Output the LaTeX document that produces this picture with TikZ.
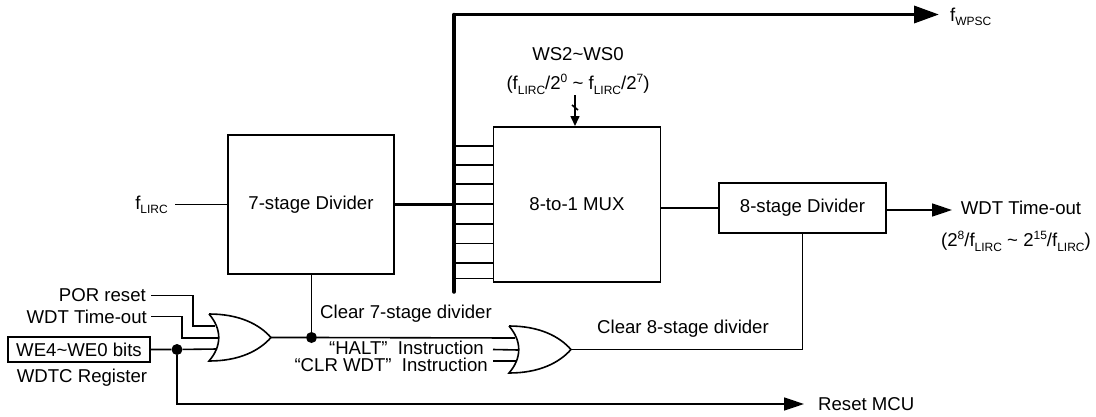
\documentclass[tikz,border=0pt]{standalone}
\usepackage{fontspec}
\setmainfont{Liberation Sans}
\usepackage{tikz}
\usetikzlibrary{positioning,arrows.meta}
\newcommand{\lowtext}[1]{\raisebox{-0.22em}{\fontsize{12}{12}\selectfont #1}}
\newcommand{\hightext}[1]{\raisebox{0.42em}{\fontsize{12}{12}\selectfont #1}}
\newcommand{\flirc}{f\lowtext{LIRC}}

\begin{document}
\begin{tikzpicture}[
  x=1pt,y=-1pt,
  lab/.style={inner sep=0pt,font=\fontsize{18.6}{22}\selectfont},
  block/.style={rectangle,draw=black,line width=1.6pt,inner sep=0pt,font=\fontsize{18.6}{22}\selectfont},
  wire/.style={line width=1.6pt},
  bus/.style={line width=3.5pt},
  arrow/.style={wire,-{Triangle[length=20pt,width=13pt]}},
  smallarrow/.style={wire,-{Triangle[length=10pt,width=9pt]}},
  busarrow/.style={bus,-{Triangle[length=25pt,width=17pt]}},
  dot/.style={circle,fill=black,inner sep=0pt,minimum size=11pt},
  orgate/.pic={
    \draw[wire] (0,0) .. controls (30,0) and (50,10) .. (62,23.5)
      .. controls (50,37) and (30,47) .. (0,47)
      .. controls (13,32) and (13,15) .. (0,0);
    \coordinate (-in1) at (6,12);
    \coordinate (-in2) at (9.5,24);
    \coordinate (-in3) at (8,35);
    \coordinate (-out) at (62,23.5);
  }
]
\useasboundingbox (0,0) rectangle (1096,416);
\node[block,minimum width=166pt,minimum height=139pt] (div7) at (311,204.5) {7-stage Divider};
\node[block,minimum width=167pt,minimum height=155pt] (mux) at (577,204.5) {8-to-1 MUX};
\node[block,minimum width=167pt,minimum height=50pt] (div8) at (802.5,208) {8-stage Divider};
\node[block,minimum width=142pt,minimum height=25pt] (wdtc) at (79,349.5) {WE4\textasciitilde WE0 bits};
\pic (ora) at (209,314) {orgate};
\pic (orb) at (509,326) {orgate};
\node[dot] (jwe) at (177,349.5) {};
\node[dot] (jclr) at (311.5,337.5) {};
% Labels
\node[lab,anchor=east] (flab) at (168,204.5) {\flirc};
\node[lab,anchor=east] (porlab) at (146,295.5) {POR reset};
\node[lab,anchor=east] (wdtlab) at (147,316.5) {WDT Time-out};
\node[lab] (reglab) at (82,378) {WDTC Register};
\node[lab,anchor=west] (clr7) at (320,314) {Clear 7-stage divider};
\node[lab,anchor=west] (clr8) at (597,329) {Clear 8-stage divider};
\node[lab,anchor=east] (halt) at (484,347.5) {``HALT''\ \ Instruction};
\node[lab,anchor=east] (clrw) at (488,365) {``CLR WDT''\ \ Instruction};
\node[lab] (ws) at (578,54) {WS2\textasciitilde WS0};
\node[lab] (wsdiv) at (578,84) {(\flirc/2\hightext{0} \textasciitilde\ \flirc/2\hightext{7})};
\node[lab,anchor=west] (fw) at (950,17) {f\lowtext{WPSC}};
\node[lab] (tout) at (1021,208) {WDT Time-out};
\node[lab] (toutb) at (1016,241) {(2\hightext{8}/\flirc\ \textasciitilde\ 2\hightext{15}/\flirc)};
\node[lab,anchor=west] (rst) at (818,404) {Reset MCU};
% Free ends
\coordinate (fin) at (175,204.5);
\coordinate (porin) at (151,295.5);
\coordinate (wdtin) at (151,316.5);
\coordinate (haltin) at (493,349.5);
\coordinate (clrin) at (493,361);
\coordinate (bustop) at (454,14.5);
\coordinate (busend) at (454,292);
\coordinate (busout) at (939,14.5);
\coordinate (wsin) at (575,95);
\coordinate (wsend) at (575,126);
\coordinate (toutend) at (952,210);
\coordinate (rstend) at (804,404);
% Connectors
\draw[wire] (fin) -- (div7.west |- fin);
\draw[bus] (div7.east) -- (454,204.5);
\draw[bus,line cap=round] (busend) -- (bustop);
\draw[busarrow] (bustop) -- (busout);
\foreach \y in {146,165,184,204,224,243.5,263,278.5}
  \draw[wire] (454,\y) -- (mux.west |- 0,\y);
\draw[wire] (mux.east |- div8) -- (div8.west);
\draw[arrow] (div8.east |- toutend) -- (toutend);
\draw[smallarrow] (wsin) -- (wsend);
\draw[wire] (572,105) -- (578,110);
\draw[wire] (porin) -| (193,326) -- (ora-in1);
\draw[wire] (wdtin) -| (182,338) -- (ora-in2);
\draw[wire] (wdtc.east) -- (jwe) -- (ora-in3);
\draw[wire] (ora-out) -- (jclr) -- (orb-in1);
\draw[wire] (div7.south -| jclr) -- (jclr);
\draw[arrow] (jwe) |- (rstend);
\draw[wire] (haltin) -- (orb-in2);
\draw[wire] (clrin) -- (orb-in3);
\draw[wire] (orb-out) -| (div8.south);
\end{tikzpicture}
\end{document}
